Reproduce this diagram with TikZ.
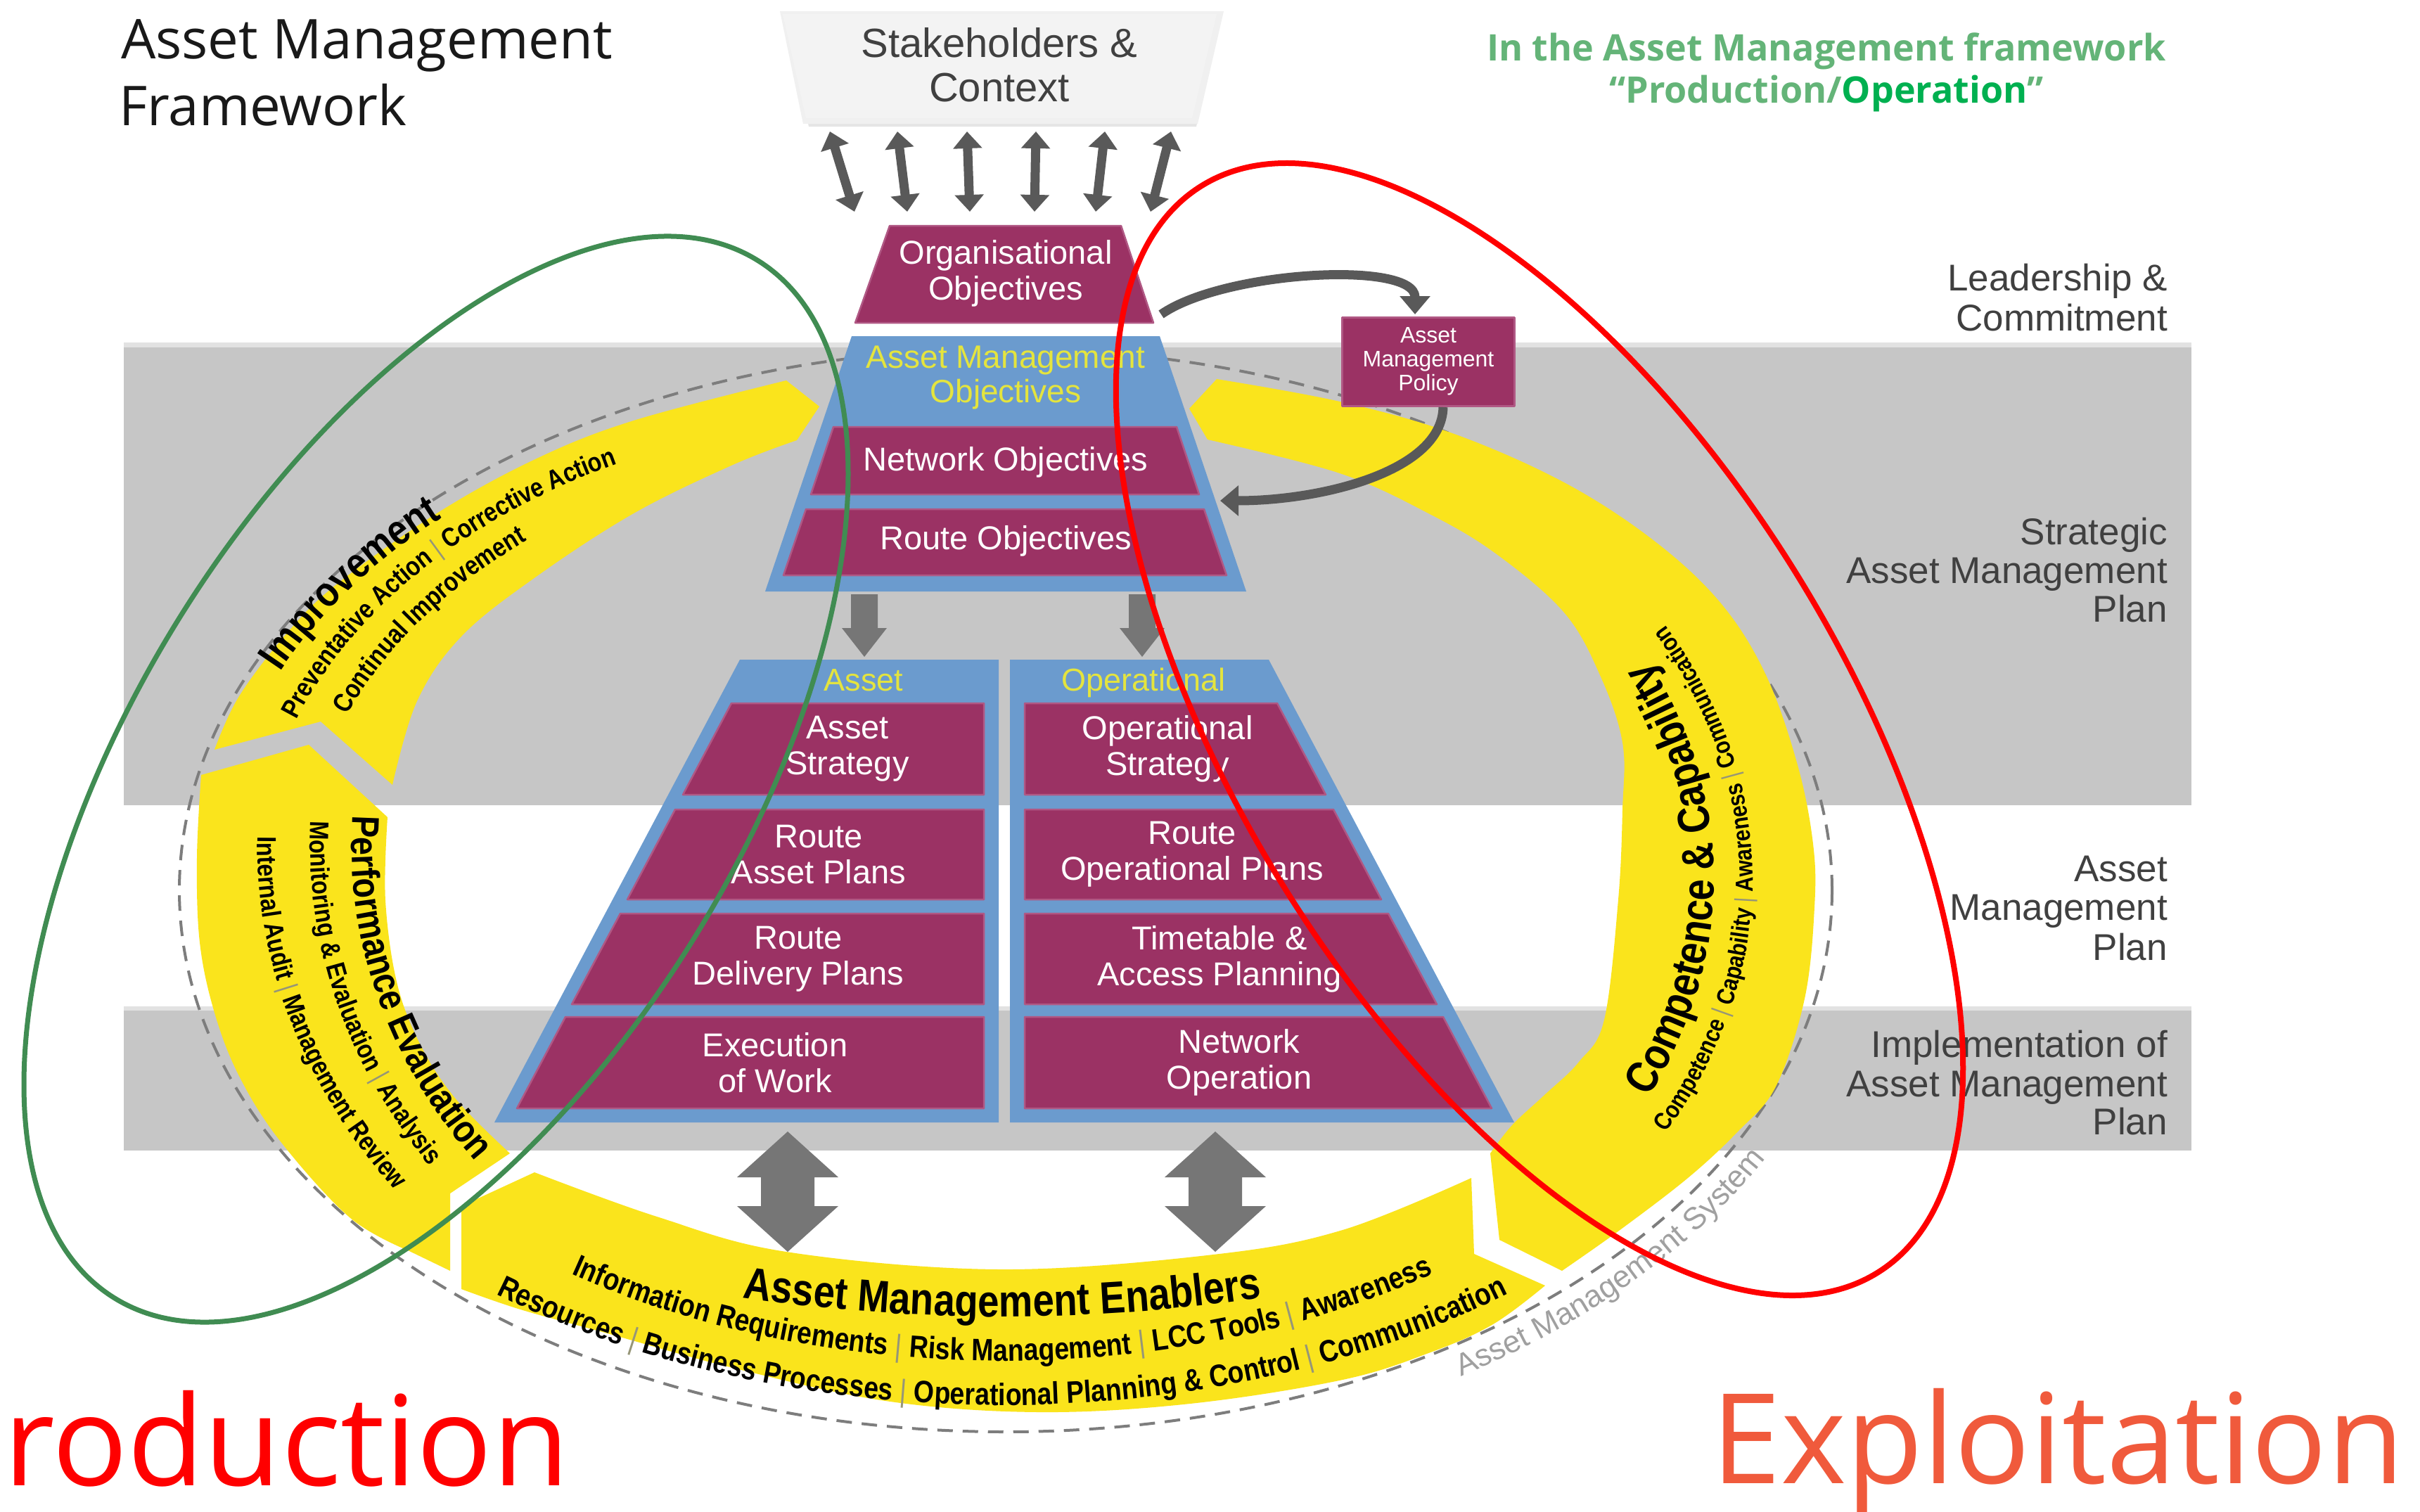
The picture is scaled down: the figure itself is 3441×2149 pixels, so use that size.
\documentclass[tikz,border=0pt]{standalone}
\usepackage{fontspec}
\setmainfont{Liberation Sans}
\newfontfamily\ringfam[FakeStretch=0.85]{Liberation Sans}
\newfontfamily\segoe{Open Sans}
\usetikzlibrary{arrows.meta,decorations.text}
\definecolor{maroon}{RGB}{155,50,100}
\definecolor{maroonL}{RGB}{176,88,132}
\definecolor{pblue}{RGB}{107,155,206}
\definecolor{ayellow}{RGB}{250,228,28}
\definecolor{band}{RGB}{198,198,198}
\definecolor{bandL}{RGB}{226,226,226}
\definecolor{dgray}{RGB}{89,89,89}
\definecolor{mgray}{RGB}{118,118,118}
\definecolor{lbltxt}{RGB}{64,64,64}
\definecolor{hyellow}{RGB}{228,228,62}
\definecolor{gellipse}{RGB}{64,140,82}
\definecolor{tgreen}{RGB}{100,180,120}
\definecolor{tgreenB}{RGB}{0,176,80}
\definecolor{expl}{RGB}{240,90,60}
\definecolor{amsgray}{RGB}{160,160,160}
\definecolor{sepgray}{RGB}{150,150,120}
\definecolor{dashgray}{RGB}{125,125,125}
\definecolor{titlec}{RGB}{25,25,25}
\definecolor{stkfill}{RGB}{243,243,243}
\newcommand\RImp{\ringfam\bfseries\fontsize{60}{62}\selectfont\color{black}}
\newcommand\RPerf{\ringfam\bfseries\fontsize{55}{57}\selectfont\color{black}}
\newcommand\RSub{\ringfam\bfseries\fontsize{38}{40}\selectfont\color{black}}
\newcommand\RSep{\ringfam\mdseries\fontsize{38}{40}\selectfont\color{sepgray}}
\newcommand\REnb{\ringfam\bfseries\fontsize{64}{66}\selectfont\color{black}}
\newcommand\REsub{\ringfam\bfseries\fontsize{44}{46}\selectfont\color{black}}
\newcommand\REsep{\ringfam\mdseries\fontsize{44}{46}\selectfont\color{sepgray}}
\newcommand\RCmp{\ringfam\bfseries\fontsize{64}{66}\selectfont\color{black}}
\newcommand\RCsub{\ringfam\bfseries\fontsize{35}{37}\selectfont\color{black}}
\newcommand\RCsep{\ringfam\mdseries\fontsize{35}{37}\selectfont\color{sepgray}}
\newcommand\AMSf{\fontsize{44}{46}\selectfont\color{amsgray}}
\tikzset{
  ringL/.style={decorate,decoration={text along path,text format delimiters={[}{]},text={#1}}},
  ringC/.style={decorate,decoration={text along path,text format delimiters={[}{]},text align=center,text={#1}}},
  pyrbar/.style={fill=maroon,draw=maroonL,line width=2.5pt},
  pyrtxt/.style={text=white,font=\fontsize{47}{51}\selectfont,align=center,inner sep=0pt},
  hdrtxt/.style={text=hyellow,font=\fontsize{45}{49}\selectfont,align=center,inner sep=0pt},
  lbl/.style={text=lbltxt,font=\fontsize{53}{55}\selectfont,anchor=base east,inner sep=0pt},
  dblarrow/.style={draw=dgray,line width=13pt,{Triangle[length=24pt,width=40pt]}-{Triangle[length=24pt,width=40pt]}},
  bentarrow/.style={draw=dgray,line width=13pt,-{Triangle[length=26pt,width=42pt]}},
  blockarrow/.style={fill=mgray},
  seg/.style={fill=ayellow},
}
\begin{document}
\begin{tikzpicture}[x=1pt,y=1pt,line join=round]
\useasboundingbox (0,0) rectangle (3441,-2149);
\clip (0,0) rectangle (3441,-2149);
\fill[white] (0,0) rectangle (3441,-2149);

% gray bands
\fill[band] (176,-494) rectangle (3116,-1145);
\fill[bandL] (176,-487) rectangle (3116,-494);
\fill[band] (176,-1437) rectangle (3116,-1636);
\fill[bandL] (176,-1431) rectangle (3116,-1437);

% right labels
\node[lbl] (l1a) at (3082,-413) {Leadership \&};
\node[lbl] (l1b) at (3082,-470) {Commitment};
\node[lbl] (l2a) at (3082,-774) {Strategic};
\node[lbl] (l2b) at (3082,-829) {Asset Management};
\node[lbl] (l2c) at (3082,-884) {Plan};
\node[lbl] (l3a) at (3082,-1253) {Asset};
\node[lbl] (l3b) at (3082,-1308) {Management};
\node[lbl] (l3c) at (3082,-1365) {Plan};
\node[lbl] (l4a) at (3082,-1503) {Implementation of};
\node[lbl] (l4b) at (3082,-1559) {Asset Management};
\node[lbl] (l4c) at (3082,-1613) {Plan};

% dashed system boundary
\draw[dashgray,line width=4pt,dash pattern=on 22pt off 14pt] (1430,-1266) ellipse (1175pt and 770pt);

% yellow ring segments
\fill[seg] (1165,-578) -- plot[smooth,tension=0.6] coordinates {(1118,-541) (901,-598) (761,-653) (621,-730) (481,-829) (410,-898) (340,-990) (305,-1066)} -- (456,-1026) -- plot[smooth,tension=0.6] coordinates {(558,-1116) (593,-997) (656,-905) (761,-821) (901,-730) (1042,-661) (1133,-626)} -- cycle;
\fill[seg] (286,-1102) -- (439,-1059) -- plot[smooth,tension=0.6] coordinates {(551,-1162) (548,-1280) (565,-1400) (600,-1490) (650,-1565) (725,-1640)} -- (640,-1697) -- (640,-1807) -- plot[smooth,tension=0.6] coordinates {(580,-1778) (497,-1731) (398,-1622) (340,-1530) (305,-1440) (284,-1340) (280,-1220) (286,-1102)} -- cycle;
\fill[seg] (656,-1833) -- (656,-1715) -- plot[smooth,tension=0.6] coordinates {(760,-1667) (934,-1730) (1118,-1780) (1421,-1805) (1725,-1784) (1909,-1749) (2092,-1675)} -- (2096,-1783) -- plot[smooth,tension=0.6] coordinates {(2197,-1828) (2123,-1883) (2034,-1923) (1909,-1962) (1692,-1996) (1476,-2008) (1259,-1992) (1042,-1945) (860,-1895) (740,-1862) (656,-1833)} -- cycle;
\fill[seg] (1691,-581) -- plot[smooth,tension=0.6] coordinates {(1730,-539) (1905,-571) (2065,-616) (2224,-686) (2352,-769) (2447,-858) (2511,-960) (2556,-1088) (2578,-1200) (2580,-1290) (2566,-1420) (2525,-1545) (2470,-1610) (2400,-1675) (2302,-1750) (2221,-1807)} -- (2132,-1763) -- plot[smooth,tension=0.6] coordinates {(2119,-1640) (2150,-1600) (2195,-1558) (2245,-1510) (2281,-1450) (2301,-1279) (2307,-1152) (2307,-1056) (2275,-960) (2224,-871) (2128,-788) (2033,-731) (1905,-673) (1717,-625)} -- cycle;

% ring texts
\path[ringL={[\RImp]Improvement}] ([shift={(1300,-1250)}]155:995pt and 697pt) arc[start angle=155,end angle=60,x radius=995pt,y radius=697pt];
\path[ringL={[\RSub]Preventative Action [\RSep]|[\RSub] Corrective Action}] ([shift={(1300,-1250)}]160:935pt and 662pt) arc[start angle=160,end angle=60,x radius=935pt,y radius=662pt];
\path[ringL={[\RSub]Continual Improvement}] ([shift={(1300,-1250)}]158:870pt and 622pt) arc[start angle=158,end angle=60,x radius=870pt,y radius=622pt];

\path[ringL={[\RPerf]Performance Evaluation}] ([shift={(1425,-1200)}]177:925pt and 770pt) arc[start angle=177,end angle=265,x radius=925pt,y radius=770pt];
\path[ringL={[\RSub]Monitoring {\&} Evaluation [\RSep]|[\RSub] Analysis}] ([shift={(1425,-1200)}]177.7:984pt and 815pt) arc[start angle=177.7,end angle=265,x radius=984pt,y radius=815pt];
\path[ringL={[\RSub]Internal Audit [\RSep]|[\RSub] Management Review}] ([shift={(1425,-1200)}]179.3:1059pt and 850pt) arc[start angle=179.3,end angle=265,x radius=1059pt,y radius=850pt];

\path[ringC={[\REnb]Asset Management Enablers}] ([shift={(1425,-1250)}]200:1265pt and 622pt) arc[start angle=200,end angle=340,x radius=1265pt,y radius=622pt];
\path[ringC={[\REsub]Information Requirements [\REsep]|[\REsub] Risk Management [\REsep]|[\REsub] LCC Tools [\REsep]|[\REsub] Awareness}] ([shift={(1425,-1250)}]200:1070pt and 685pt) arc[start angle=200,end angle=340,x radius=1070pt,y radius=685pt];
\path[ringC={[\REsub]Resources [\REsep]|[\REsub] Business Processes [\REsep]|[\REsub] Operational Planning {\&} Control [\REsep]|[\REsub] Communication}] ([shift={(1425,-1250)}]200:1170pt and 748pt) arc[start angle=200,end angle=340,x radius=1170pt,y radius=748pt];

\path[ringC={[\RCmp]Competence {\&} Capability}] ([shift={(1425,-1250)}]-60:1012pt and 742pt) arc[start angle=-60,end angle=60,x radius=1012pt,y radius=742pt];
\path[ringC={[\RCsub]Competence [\RCsep]|[\RCsub] Capability [\RCsep]|[\RCsub] Awareness [\RCsep]|[\RCsub] Communication}] ([shift={(1425,-1250)}]-60:1067pt and 772pt) arc[start angle=-60,end angle=60,x radius=1067pt,y radius=772pt];

\path[ringL={[\AMSf]Asset Management System}] ([shift={(1430,-1266)}]-58:1222pt and 815pt) arc[start angle=-58,end angle=-5,x radius=1222pt,y radius=815pt];

% top pyramid
\fill[pblue] (1211,-478) -- (1649,-478) -- (1772,-841) -- (1088,-841) -- cycle;
\draw[pyrbar] (1185,-607) -- (1673,-607) -- (1705,-703) -- (1153,-703) -- cycle;
\draw[pyrbar] (1146,-724) -- (1712,-724) -- (1744,-818) -- (1114,-818) -- cycle;
\node[hdrtxt,font=\fontsize{46}{49}\selectfont] (amo) at (1430,-537) {Asset Management\\Objectives};
\node[pyrtxt,anchor=base] (netobj) at (1430,-669) {Network Objectives};
\node[pyrtxt,anchor=base] (rteobj) at (1430,-781) {Route Objectives};

% organisational objectives
\draw[pyrbar] (1265,-321) -- (1594,-321) -- (1640,-459) -- (1216,-459) -- cycle;
\node[pyrtxt] (orgobj) at (1430,-389) {Organisational\\Objectives};

% down arrows
\fill[blockarrow] (1210,-845) -- (1248,-845) -- (1248,-893) -- (1261,-893) -- (1229,-934) -- (1197,-893) -- (1210,-893) -- cycle;
\fill[blockarrow] (1605,-845) -- (1643,-845) -- (1643,-893) -- (1656,-893) -- (1624,-934) -- (1592,-893) -- (1605,-893) -- cycle;

% lower pyramids
\fill[pblue] (1052,-938) -- (1420,-938) -- (1420,-1596) -- (703,-1596) -- cycle;
\fill[pblue] (1436,-938) -- (1804,-938) -- (2153,-1596) -- (1436,-1596) -- cycle;
\draw[pyrbar] (1040,-1000) -- (1399,-1000) -- (1399,-1130) -- (971,-1130) -- cycle;
\draw[pyrbar] (960,-1151) -- (1399,-1151) -- (1399,-1279) -- (892,-1279) -- cycle;
\draw[pyrbar] (882,-1299) -- (1399,-1299) -- (1399,-1428) -- (813,-1428) -- cycle;
\draw[pyrbar] (804,-1446) -- (1399,-1446) -- (1399,-1576) -- (735,-1576) -- cycle;
\draw[pyrbar] (1457,-1000) -- (1816,-1000) -- (1885,-1130) -- (1457,-1130) -- cycle;
\draw[pyrbar] (1457,-1151) -- (1896,-1151) -- (1964,-1279) -- (1457,-1279) -- cycle;
\draw[pyrbar] (1457,-1299) -- (1974,-1299) -- (2043,-1428) -- (1457,-1428) -- cycle;
\draw[pyrbar] (1457,-1446) -- (2052,-1446) -- (2121,-1576) -- (1457,-1576) -- cycle;
\node[hdrtxt,anchor=base] (hasset) at (1228,-982) {Asset};
\node[hdrtxt,anchor=base] (hoper) at (1626,-982) {Operational};
\node[pyrtxt] (b1) at (1205,-1065) {Asset\\Strategy};
\node[pyrtxt] (b2) at (1164,-1215) {Route\\Asset Plans};
\node[pyrtxt] (b3) at (1135,-1364) {Route\\Delivery Plans};
\node[pyrtxt] (b4) at (1102,-1511) {Execution\\of Work};
\node[pyrtxt] (c1) at (1660,-1065) {Operational\\Strategy};
\node[pyrtxt] (c2) at (1695,-1215) {Route\\Operational Plans};
\node[pyrtxt] (c3) at (1734,-1364) {Timetable \&\\Access Planning};
\node[pyrtxt] (c4) at (1762,-1511) {Network\\Operation};

% big double arrows
\fill[blockarrow] (1120,-1609) -- (1192,-1674) -- (1158,-1674) -- (1158,-1715) -- (1192,-1715) -- (1120,-1780) -- (1048,-1715) -- (1082,-1715) -- (1082,-1674) -- (1048,-1674) -- cycle;
\fill[blockarrow] (1728,-1609) -- (1800,-1674) -- (1766,-1674) -- (1766,-1715) -- (1800,-1715) -- (1728,-1780) -- (1656,-1715) -- (1690,-1715) -- (1690,-1674) -- (1656,-1674) -- cycle;

% policy box and bent arrows
\node[draw=maroonL,fill=maroon,line width=3pt,minimum width=245pt,minimum height=126pt,inner sep=0pt,text=white,align=center,font=\fontsize{32}{34}\selectfont] (policy) at (2031,-514) {Asset\\Management\\Policy};
\coordinate (a1s) at (1651,-447);
\coordinate (a1e) at (2012,-447);
\draw[bentarrow] (a1s) .. controls (1740,-385) and (2012,-370) .. (a1e);
\coordinate (a2s) at (2052,-579);
\coordinate (a2e) at (1735,-712);
\draw[bentarrow] (a2s) .. controls (2050,-670) and (1880,-712) .. (a2e);

% stakeholders box
\fill[black!10] (1117,-26) -- (1736,-26) -- (1701,-180) -- (1150,-180) -- cycle;
\fill[black!6] (1109,-16) -- (1740,-16) -- (1703,-176) -- (1142,-176) -- cycle;
\fill[stkfill] (1113,-20) -- (1730,-20) -- (1695,-168) -- (1146,-168) -- cycle;
\node[text=lbltxt,font=\fontsize{58}{63}\selectfont,align=center,inner sep=0pt] (stk) at (1421,-92) {Stakeholders \&\\Context};

% stakeholder double arrows
\coordinate (s1t) at (1180,-187); \coordinate (s1b) at (1215,-301);
\coordinate (s2t) at (1276,-187); \coordinate (s2b) at (1290,-301);
\coordinate (s3t) at (1375,-187); \coordinate (s3b) at (1379,-301);
\coordinate (s4t) at (1473,-187); \coordinate (s4b) at (1471,-301);
\coordinate (s5t) at (1571,-187); \coordinate (s5b) at (1558,-301);
\coordinate (s6t) at (1665,-187); \coordinate (s6b) at (1636,-301);
\draw[dblarrow] (s1t) -- (s1b);
\draw[dblarrow] (s2t) -- (s2b);
\draw[dblarrow] (s3t) -- (s3b);
\draw[dblarrow] (s4t) -- (s4b);
\draw[dblarrow] (s5t) -- (s5b);
\draw[dblarrow] (s6t) -- (s6b);

% titles
\node[anchor=base west,inner sep=0pt,text=titlec,font=\segoe\fontsize{78}{90}\selectfont] (t1) at (172,-83) {Asset Management};
\node[anchor=base west,inner sep=0pt,text=titlec,font=\segoe\fontsize{78}{90}\selectfont] (t2) at (169,-178) {Framework};
\node[anchor=base,inner sep=0pt,text=tgreen,font=\segoe\bfseries\fontsize{52}{60}\selectfont] (g1) at (2597,-86) {In the Asset Management framework};
\node[anchor=base,inner sep=0pt,text=tgreen,font=\segoe\bfseries\fontsize{52}{60}\selectfont] (g2) at (2597,-146) {“Production/\textcolor{tgreenB}{Operation}”};

% highlight ellipses
\draw[gellipse,line width=7pt,rotate around={58.2:(620,-1108)}] (620,-1108) ellipse (868pt and 431pt);
\draw[red,line width=8pt,rotate around={121.9:(2189,-1037)}] (2189,-1037) ellipse (910pt and 427pt);

% big words
\node[anchor=base west,inner sep=0pt,text=red,font=\segoe\fontsize{178}{180}\selectfont] (prod) at (5,-2112) {roduction};
\node[anchor=base west,inner sep=0pt,text=expl,font=\segoe\fontsize{178}{180}\selectfont] (exploit) at (2433,-2109) {Exploitation};
\end{tikzpicture}
\end{document}
